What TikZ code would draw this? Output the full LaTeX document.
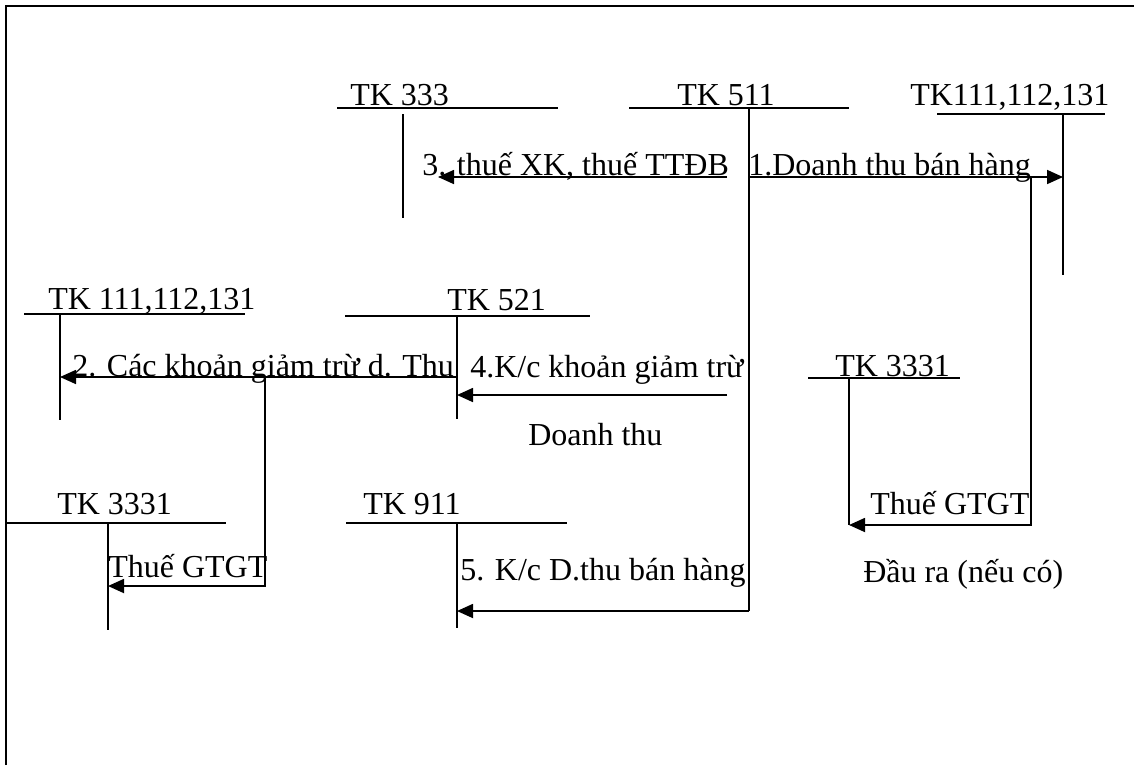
\documentclass[tikz,border=0pt]{standalone}
\usepackage{fontspec}
\setmainfont{Liberation Serif}
\usetikzlibrary{arrows.meta}
\tikzset{
  acc/.style={line width=1.3pt},
  flow/.style={line width=1.3pt, -{Triangle[length=12pt,width=10.5pt]}},
  lbl/.style={anchor=base west, inner sep=0pt, font=\fontsize{24}{28}\selectfont},
}
\begin{document}
\begin{tikzpicture}[x=0.75pt, y=-0.75pt]
  \useasboundingbox (0,0) rectangle (1134,765);
  \draw [line width=2.2pt] (6,765) -- (6,6) -- (1134,6);
  % rows of the entries
  \coordinate (r1) at (0,177);
  \coordinate (r2) at (0,377);
  \coordinate (r5) at (0,611);
  \coordinate (rg) at (0,525);
  \coordinate (rgl) at (0,586);
  % tops of the T accounts
  \coordinate (v333) at (403,114);
  \coordinate (v511) at (749,108);
  \coordinate (vtop) at (1063,114);
  \coordinate (v111) at (60,314);
  \coordinate (v521) at (457,316);
  \coordinate (v3331r) at (849,378);
  \coordinate (v3331l) at (108,523);
  \coordinate (v911) at (457,523);
  % T accounts
  \draw [acc] (337,108) -- (558,108);
  \draw [acc] (v333) -- (403,218);
  \node [lbl] (n333) at (350,105) {TK 333};
  \draw [acc] (629,108) -- (849,108);
  \draw [acc] (v511) -- (v511 |- r5);
  \node [lbl] (n511) at (677,105) {TK 511};
  \draw [acc] (937,114) -- (1105,114);
  \draw [acc] (vtop) -- (1063,275);
  \node [lbl] (n111t) at (910,105) {TK111,112,131};
  \draw [acc] (24,314) -- (245,314);
  \draw [acc] (v111) -- (60,420);
  \node [lbl] (n111) at (48,309) {TK 111,112,131};
  \draw [acc] (345,316) -- (590,316);
  \draw [acc] (v521) -- (457,419);
  \node [lbl] (n521) at (447,310) {TK 521};
  \draw [acc] (808,378) -- (960,378);
  \draw [acc] (v3331r) -- (v3331r |- rg);
  \node [lbl] (n3331r) at (835,376) {TK 3331};
  \draw [acc] (6,523) -- (226,523);
  \draw [acc] (v3331l) -- (108,630);
  \node [lbl] (n3331l) at (57,514) {TK 3331};
  \draw [acc] (346,523) -- (567,523);
  \draw [acc] (v911) -- (457,628);
  \node [lbl] (n911) at (363,514) {TK 911};
  % entries
  \coordinate (s3) at (727,177);
  \coordinate (e3) at (438,177);
  \coordinate (s4) at (727,395);
  \coordinate (b1) at (1031,177);
  \coordinate (b2) at (265,377);
  \draw [flow] (v511 |- r1) -- (vtop |- r1);
  \node [lbl] (t1) at (748,175) {1.Doanh thu bán hàng};
  \draw [flow] (s3) -- (e3);
  \node [lbl] (t3) at (422,175) {3. thuế XK, thuế TTĐB};
  \draw [flow] (b1) -- (b1 |- rg) -- (v3331r |- rg);
  \node [lbl] (tg1) at (870,514) {Thuế GTGT};
  \node [lbl] (tg2) at (863,582) {Đầu ra (nếu có)};
  \draw [flow] (v521 |- r2) -- (v111 |- r2);
  \node [lbl] (t2) at (72,376) {2. Các khoản giảm trừ d. Thu};
  \draw [flow] (b2) -- (b2 |- rgl) -- (v3331l |- rgl);
  \node [lbl] (tg3) at (108,577) {Thuế GTGT};
  \draw [flow] (s4) -- (v521 |- s4);
  \node [lbl] (t4) at (470,377) {4.K/c khoản giảm trừ};
  \node [lbl] (t4b) at (528,445) {Doanh thu};
  \draw [flow] (v511 |- r5) -- (v911 |- r5);
  \node [lbl] (t5) at (460,580) {5. K/c D.thu bán hàng};
\end{tikzpicture}
\end{document}
